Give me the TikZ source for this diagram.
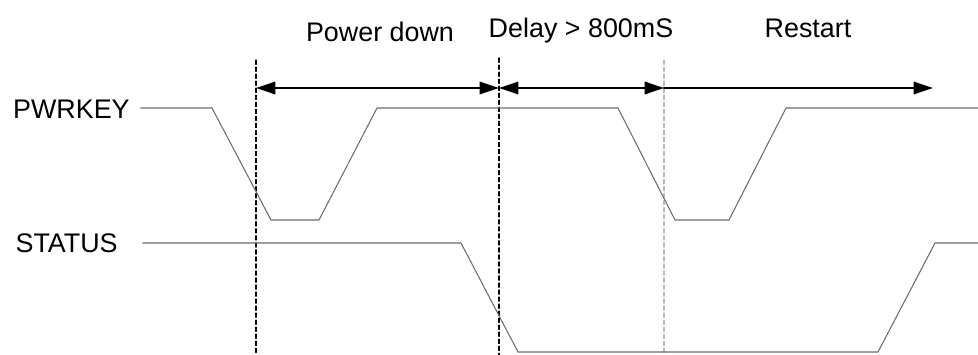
\documentclass[tikz,border=0pt]{standalone}
\usepackage{fontspec}
\setmainfont{Liberation Sans}
\usetikzlibrary{arrows.meta}
\begin{document}
\begin{tikzpicture}[
    x=0.02cm,y=-0.02cm,
    font=\fontsize{15.3}{18}\selectfont,
    line cap=round,
    line join=round,
    signal/.style={draw=gray!85!black, line width=0.6pt},
    marker/.style={draw=black, line width=0.6pt, dash pattern=on 2.5pt off 1.5pt},
    faintmarker/.style={draw=gray!55, line width=0.6pt, dash pattern=on 2.5pt off 1.5pt},
    span/.style={draw=black, line width=1.2pt},
    tip/.tip={Triangle[length=11pt,width=7pt]},
    sigtext/.style={inner sep=0pt, anchor=base east},
    title/.style={inner sep=0pt, anchor=base}
]

\useasboundingbox (0,0) rectangle (978,355);

% signal names
\node[sigtext] (pwr) at (130,118) {PWRKEY};
\node[sigtext] (sts) at (118,252) {STATUS};

% phase titles
\node[title] (tdown) at (380,41) {Power down};
\node[title] (tdelay) at (581,37) {Delay > 800mS};
\node[title] (trestart) at (808,37) {Restart};

% phase markers
\coordinate (M1) at (256,60);
\coordinate (M2) at (499,58);
\coordinate (M3) at (664,60);

\draw[marker] (M1) -- (M1 |- 0,355);
\draw[marker] (M2) -- (M2 |- 0,355);
\draw[faintmarker] (M3) -- (M3 |- 0,355);

% spans
\coordinate (A1) at (256,88);
\coordinate (A2) at (499,88);
\coordinate (A3) at (664,88);
\coordinate (A4) at (933,88);

\draw[span, tip-tip] (A1) -- (A2);
\draw[span, tip-tip] (A2) -- (A3);
\draw[span, -tip] (A3) -- (A4);

% PWRKEY waveform
\draw[signal] ([xshift=6pt]pwr.base east |- 0,108) -- (212,108) -- (271,220) -- (319,220)
    -- (377,108) -- (618,108) -- (675,220) -- (729,220) -- (786,108) -- (978,108);

% STATUS waveform
\draw[signal] ([xshift=14pt]sts.base east |- 0,243) -- (461,243) -- (518,352) -- (878,352)
    -- (935,243) -- (978,243);

\end{tikzpicture}
\end{document}
